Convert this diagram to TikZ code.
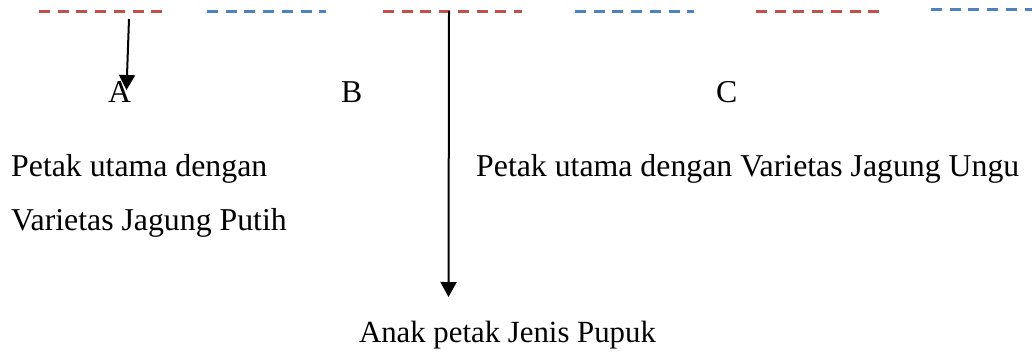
\documentclass[tikz,border=0pt]{standalone}
\usepackage{fontspec}
\setmainfont{Liberation Serif}
\usetikzlibrary{arrows.meta}
\definecolor{plotred}{HTML}{C0504D}
\definecolor{plotblue}{HTML}{4F81BD}
\tikzset{
  plotline/.style={line width=3pt, dash pattern=on 11pt off 7.7pt},
  redplot/.style={plotline, draw=plotred},
  blueplot/.style={plotline, draw=plotblue},
  label/.style={inner sep=0pt, anchor=base west, font=\fontsize{31.8}{38}\selectfont},
  pointer/.style={line width=2pt, -{Triangle[length=15pt,width=16pt]}}
}
\begin{document}
\begin{tikzpicture}[x=1pt,y=-1pt]
\useasboundingbox (0,0) rectangle (1032,354);
% rows of plots
\draw[redplot]  (39,11.5) -- (162,11.5);
\draw[blueplot] (207,11.5) -- (326,11.5);
\draw[redplot]  (383,11.5) -- (522,11.5);
\draw[blueplot] (575,11.5) -- (694,11.5);
\draw[redplot]  (756,11) -- (880,11);
\draw[blueplot] (931,9.5) -- (1040,9.5);
% plot letters
\node[label] (A) at (108,102) {A};
\node[label] (B) at (341,102) {B};
\node[label] (C) at (716,102) {C};
% descriptions
\node[label] (main1a) at (11,176) {Petak utama dengan};
\node[label] (main1b) at (11,230.5) {Varietas Jagung Putih};
\node[label] (main2) at (476,176) {Petak utama dengan Varietas Jagung Ungu};
\node[label, anchor=base, font=\fontsize{30.8}{37}\selectfont] (sub) at (507.5,342) {Anak petak Jenis Pupuk};
% pointers
\coordinate (pA0) at (129,19);
\coordinate (pA1) at (126.5,90);
\coordinate (pS0) at (449,11);
\coordinate (pS1) at (448.5,297);
\draw[pointer] (pA0) -- (pA1);
\draw[pointer] (pS0) -- (pS1);
\end{tikzpicture}
\end{document}
